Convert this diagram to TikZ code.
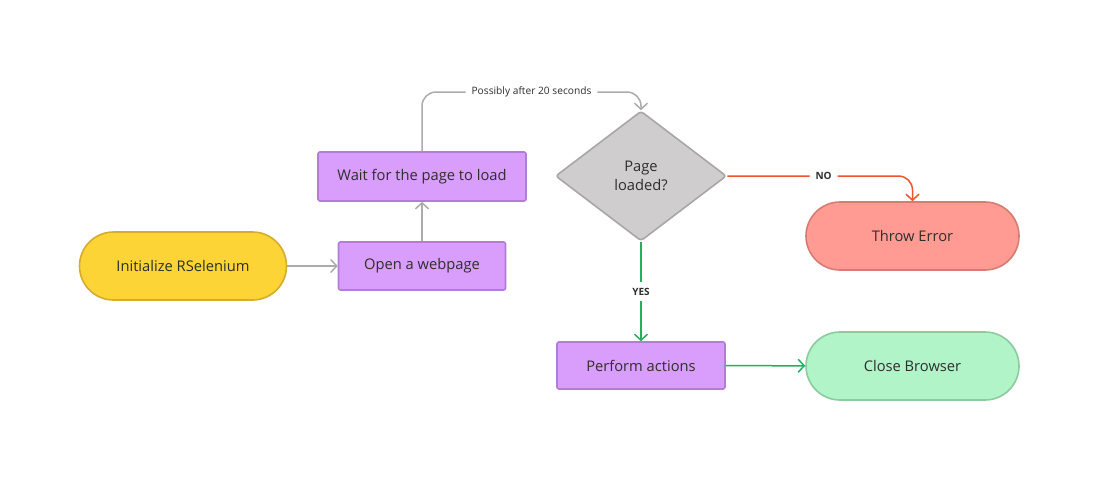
\documentclass[tikz,border=0pt]{standalone}
\usepackage{fontspec}
\setmainfont{Open Sans}
\usetikzlibrary{shapes.geometric,arrows.meta,positioning}
\definecolor{txt}{HTML}{2E2E2E}
\definecolor{yfill}{HTML}{FDD435}
\definecolor{ydraw}{HTML}{D4AC2E}
\definecolor{pfill}{HTML}{D99DFB}
\definecolor{pdraw}{HTML}{B27DD8}
\definecolor{gfill}{HTML}{CFCDCE}
\definecolor{gdraw}{HTML}{A8A6A7}
\definecolor{rfill}{HTML}{FF9B93}
\definecolor{rdraw}{HTML}{D67C74}
\definecolor{tfill}{HTML}{B0F4C8}
\definecolor{tdraw}{HTML}{8DCB9F}
\definecolor{linegray}{HTML}{ABABAB}
\definecolor{linered}{HTML}{F2522E}
\definecolor{linegreen}{HTML}{22B05E}
\tikzset{
  base/.style={font=\fontsize{14.7}{17}\selectfont, text=txt, line width=1.6pt, align=center, inner sep=0pt},
  pill/.style={base, rectangle, rounded corners=34pt, minimum width=207pt, minimum height=68pt},
  procbox/.style={base, rectangle, rounded corners=2pt, fill=pfill, draw=pdraw, minimum height=48pt},
  decision/.style={base, diamond, fill=gfill, draw=gdraw, minimum width=171pt, minimum height=130pt, rounded corners=3pt, aspect=1.315},
  conn/.style={line width=1.5pt, -{Straight Barb[length=6pt,width=13pt,line width=1.5pt]}},
  lbl/.style={font=\fontsize{10.2}{12}\selectfont, text=txt, fill=white, inner sep=6pt},
  blbl/.style={font=\fontsize{10}{12}\selectfont\bfseries, text=txt, fill=white, inner sep=6pt},
}
\begin{document}
\begin{tikzpicture}[x=1pt,y=-1pt]
\useasboundingbox[fill=white] (0,0) rectangle (1100,480);
\node[pill, fill=yfill, draw=ydraw] (init) at (183,266) {\raisebox{-1.5pt}{Initialize RSelenium}};
\node[procbox, minimum width=167pt] (open) at (422,266) {\raisebox{-1.5pt}{Open a webpage}};
\node[procbox, minimum width=208pt, minimum height=49pt] (wait) at (422,176.5) {\raisebox{-1.5pt}{Wait for the page to load}};
\node[decision] (dec) at (641,176) {Page\\[2pt]loaded?};
\node[pill, fill=rfill, draw=rdraw, minimum width=213pt] (err) at (912.5,236) {\raisebox{-1.5pt}{Throw Error}};
\node[procbox, minimum width=168pt, minimum height=47pt] (act) at (641,365.5) {\raisebox{-1.5pt}{Perform actions}};
\node[pill, fill=tfill, draw=tdraw, minimum width=213pt] (close) at (912.5,366) {\raisebox{-1.5pt}{Close Browser}};
\coordinate (tl) at (422,92);
\coordinate (tr) at (641,92);
\coordinate (nr) at (912.5,176);

\draw[conn, linegray] (init) -- (open);
\draw[conn, linegray] (open) -- (wait);
\draw[conn, linegray, rounded corners=14pt] (wait.north) -- (tl) -- node[lbl, pos=0.5] {Possibly after 20 seconds} (tr) -- (dec.north);
\draw[conn, linered, rounded corners=14pt] (dec.east) -- node[blbl, pos=0.52] {NO} (nr) -- (err.north);
\draw[conn, linegreen] (dec.south) -- node[blbl] {YES} (act.north);
\draw[conn, linegreen] (act) -- (close);
\end{tikzpicture}
\end{document}
